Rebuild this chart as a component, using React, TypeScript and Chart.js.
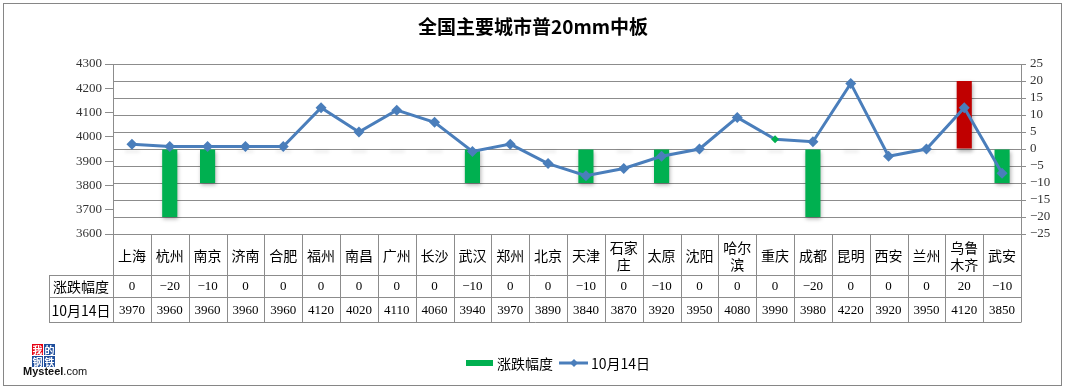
import React, { useEffect, useRef } from "react";
import { Chart, registerables } from "chart.js";

Chart.register(...registerables);

const TITLE = "全国主要城市普20mm中板";
const categories = [
  "上海", "杭州", "南京", "济南", "合肥", "福州", "南昌", "广州", "长沙", "武汉", "郑州", "北京",
  "天津", "石家庄", "太原", "沈阳", "哈尔滨", "重庆", "成都", "昆明", "西安", "兰州", "乌鲁木齐", "武安",
];
const categoryLines = [
  ["上海"], ["杭州"], ["南京"], ["济南"], ["合肥"], ["福州"], ["南昌"], ["广州"], ["长沙"], ["武汉"], ["郑州"], ["北京"],
  ["天津"], ["石家", "庄"], ["太原"], ["沈阳"], ["哈尔", "滨"], ["重庆"], ["成都"], ["昆明"], ["西安"], ["兰州"], ["乌鲁", "木齐"], ["武安"],
];
const changeName = "涨跌幅度";
const changeValues = [0, -20, -10, 0, 0, 0, 0, 0, 0, -10, 0, 0, -10, 0, -10, 0, 0, 0, -20, 0, 0, 0, 20, -10];
const priceName = "10月14日";
const priceValues = [3970, 3960, 3960, 3960, 3960, 4120, 4020, 4110, 4060, 3940, 3970, 3890, 3840, 3870, 3920, 3950, 4080, 3990, 3980, 4220, 3920, 3950, 4120, 3850];
const leftMin = 3600, leftMax = 4300, leftStep = 100;
const rightMin = -25, rightMax = 25, rightStep = 5;

const GREEN = "#00B050";
const RED = "#C00000";
const BLUE = "#4A7EBB";
const GRID = "#8C8C8C";
const CJK = '"Noto Sans CJK SC", sans-serif';
const NUM = '"Liberation Serif", serif';

const fmt = (v: number) => (v < 0 ? "\u2212" + Math.abs(v) : String(v));

const decorPlugin = {
  id: "decor",
  beforeDraw(chart: any) {
    const ctx = chart.ctx;
    ctx.save();
    ctx.fillStyle = "#fff";
    ctx.fillRect(0, 0, chart.width, chart.height);
    ctx.restore();
  },
  beforeDatasetDraw(chart: any, args: any) {
    const ctx = chart.ctx;
    if (args.index === 0) {
      const meta = chart.getDatasetMeta(0);
      const zeroY = chart.scales.y1.getPixelForValue(0);
      ctx.save();
      ctx.filter = "blur(1.5px)";
      ctx.fillStyle = "rgba(0,0,0,0.06)";
      meta.data.forEach((el: any, i: number) => {
        if (changeValues[i] >= 0) {
          ctx.fillRect(el.x - 7, zeroY + 1, 15, 3);
        }
      });
      ctx.restore();
      ctx.save();
      ctx.shadowColor = "rgba(0,0,0,0.3)";
      ctx.shadowBlur = 4;
      ctx.shadowOffsetX = 1;
      ctx.shadowOffsetY = 2;
    }
  },
  afterDatasetDraw(chart: any, args: any) {
    if (args.index === 0) chart.ctx.restore();
  },
  afterDraw(chart: any) {
    const ctx = chart.ctx;
    const area = chart.chartArea;
    const xs = chart.scales.x;
    const n = categories.length;
    const w = (area.right - area.left) / n;
    const top = area.bottom;
    const r1 = 275, r2 = 297, r3 = 322;
    const headL = 49;
    ctx.save();
    // table lines
    ctx.strokeStyle = GRID;
    ctx.lineWidth = 1;
    ctx.beginPath();
    for (let i = 0; i <= n; i++) {
      const x = Math.round(area.left + i * w) + 0.5;
      ctx.moveTo(x, top);
      ctx.lineTo(x, r3);
    }
    [r1, r2, r3].forEach((y) => {
      ctx.moveTo(headL, y + 0.5);
      ctx.lineTo(area.right + 0.5, y + 0.5);
    });
    ctx.moveTo(headL + 0.5, r1);
    ctx.lineTo(headL + 0.5, r3);
    ctx.stroke();
    // category labels
    ctx.fillStyle = "#000";
    ctx.textAlign = "center";
    ctx.textBaseline = "middle";
    ctx.font = "14px " + CJK;
    categoryLines.forEach((lines, i) => {
      const cx = xs.getPixelForValue(i);
      if (lines.length === 1) {
        ctx.fillText(lines[0], cx, (top + r1) / 2 + 1);
      } else {
        ctx.fillText(lines[0], cx, (top + r1) / 2 - 7);
        ctx.fillText(lines[1], cx, (top + r1) / 2 + 10);
      }
    });
    // row headers
    ctx.font = "14px " + CJK;
    ctx.fillText(changeName, (headL + area.left) / 2, (r1 + r2) / 2 + 1);
    ctx.fillText(priceName, (headL + area.left) / 2, (r2 + r3) / 2 + 1);
    // values
    ctx.font = "13px " + NUM;
    changeValues.forEach((v, i) => {
      ctx.fillText(fmt(v), xs.getPixelForValue(i), (r1 + r2) / 2 + 1);
    });
    priceValues.forEach((v, i) => {
      ctx.fillText(String(v), xs.getPixelForValue(i), (r2 + r3) / 2 + 1);
    });
    // title
    ctx.font = "bold 19px " + CJK;
    ctx.fillText(TITLE, 533, 27);
    // legend
    ctx.fillStyle = GREEN;
    ctx.fillRect(466, 360, 27, 6);
    ctx.fillStyle = "#000";
    ctx.textAlign = "left";
    ctx.font = "14px " + CJK;
    ctx.fillText(changeName, 497, 364);
    ctx.strokeStyle = BLUE;
    ctx.lineWidth = 3;
    ctx.beginPath();
    ctx.moveTo(559, 363);
    ctx.lineTo(588, 363);
    ctx.stroke();
    ctx.fillStyle = BLUE;
    ctx.beginPath();
    ctx.moveTo(574, 359);
    ctx.lineTo(578, 363);
    ctx.lineTo(574, 367);
    ctx.lineTo(570, 363);
    ctx.closePath();
    ctx.fill();
    ctx.fillStyle = "#000";
    ctx.fillText(priceName, 591, 364);
    // logo
    const boxes = [
      { x: 32, y: 344, c: "#E60012", t: "我" },
      { x: 44, y: 344, c: "#1F4E9C", t: "的" },
      { x: 32, y: 356, c: "#1F4E9C", t: "钢" },
      { x: 44, y: 356, c: "#1F4E9C", t: "铁" },
    ];
    ctx.textAlign = "center";
    ctx.font = "bold 10px " + CJK;
    boxes.forEach((b) => {
      ctx.fillStyle = b.c;
      ctx.fillRect(b.x, b.y, 11, 11);
      ctx.fillStyle = "#fff";
      ctx.fillText(b.t, b.x + 5.5, b.y + 6);
    });
    ctx.textAlign = "left";
    ctx.fillStyle = "#111";
    ctx.font = 'bold 11px "Liberation Sans", sans-serif';
    ctx.fillText("Mysteel", 23, 372);
    const mw = ctx.measureText("Mysteel").width;
    ctx.font = '11px "Liberation Sans", sans-serif';
    ctx.fillText(".com", 23 + mw, 372);
    // chart border
    ctx.strokeStyle = "#868686";
    ctx.lineWidth = 1;
    ctx.strokeRect(3.5, 3.5, 1058, 382);
    ctx.restore();
  },
};

export default function App() {
  const ref = useRef<HTMLCanvasElement | null>(null);
  useEffect(() => {
    document.body.style.margin = "0";
    const canvas = ref.current!;
    const chart = new Chart(canvas, {
      type: "bar",
      data: {
        labels: categories,
        datasets: [
          {
            type: "bar",
            label: changeName,
            data: changeValues,
            yAxisID: "y1",
            backgroundColor: changeValues.map((v) => (v > 0 ? RED : GREEN)),
            barPercentage: 0.4,
            categoryPercentage: 1,
            order: 2,
          },
          {
            type: "line",
            label: priceName,
            data: priceValues,
            yAxisID: "y",
            borderColor: BLUE,
            backgroundColor: BLUE,
            borderWidth: 3,
            pointStyle: "rectRot",
            pointRadius: categories.map((c) => (c === "重庆" ? 4 : 5.5)),
            pointBackgroundColor: categories.map((c) => (c === "重庆" ? GREEN : BLUE)),
            pointBorderColor: categories.map((c) => (c === "重庆" ? GREEN : BLUE)),
            pointBorderWidth: 0,
            tension: 0,
            order: 1,
          } as any,
        ],
      },
      options: {
        responsive: false,
        animation: false,
        devicePixelRatio: 1,
        layout: { padding: { top: 64, left: 0, right: 0, bottom: 0 } },
        plugins: { legend: { display: false }, title: { display: false }, tooltip: { enabled: false } },
        scales: {
          x: {
            type: "category",
            offset: true,
            grid: { display: false },
            border: { display: false },
            ticks: { display: false },
            afterFit: (s: any) => { s.height = 156; },
          },
          y: {
            position: "left",
            min: leftMin,
            max: leftMax,
            ticks: { stepSize: leftStep, autoSkip: false, font: { family: NUM, size: 13 }, color: "#333", padding: 3, callback: (v: any) => String(v) },
            grid: { drawOnChartArea: false, drawTicks: true, tickLength: 8, color: GRID },
            border: { display: true, color: GRID },
            afterFit: (s: any) => { s.width = 113; },
          },
          y1: {
            position: "right",
            min: rightMin,
            max: rightMax,
            ticks: { stepSize: rightStep, autoSkip: false, font: { family: NUM, size: 13 }, color: "#333", padding: 4, callback: (v: any) => fmt(Number(v)) },
            grid: { drawOnChartArea: true, drawTicks: true, tickLength: 5, color: GRID },
            border: { display: true, color: GRID },
            afterFit: (s: any) => { s.width = 45; },
          },
        },
      },
      plugins: [decorPlugin],
    });
    return () => chart.destroy();
  }, []);
  return (
    <div style={{ position: "absolute", left: 0, top: 0, width: 1066, height: 390 }}>
      <canvas ref={ref} width={1066} height={390} style={{ width: 1066, height: 390 }} />
    </div>
  );
}
